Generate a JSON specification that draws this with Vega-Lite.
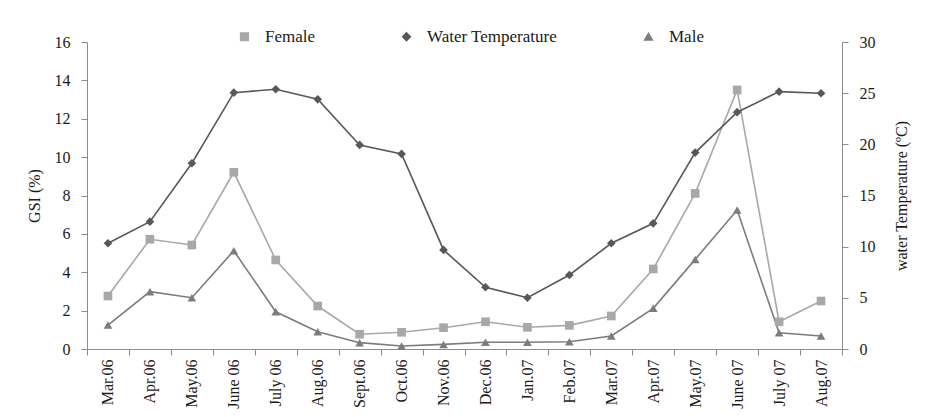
{
  "$schema": "https://vega.github.io/schema/vega-lite/v6.json",
  "width": 755,
  "height": 307,
  "autosize": {"type": "none"},
  "padding": {"left": 87, "top": 42, "right": 88, "bottom": 68},
  "background": "white",
  "config": {
    "font": "Liberation Serif",
    "view": {"stroke": null},
    "axis": {
      "grid": false,
      "domainColor": "#8c8c8c",
      "tickColor": "#8c8c8c",
      "labelColor": "#1a1a1a",
      "titleColor": "#1a1a1a",
      "labelFont": "Liberation Serif",
      "titleFont": "Liberation Serif",
      "labelFontSize": 16,
      "titleFontSize": 16,
      "titleFontWeight": "normal"
    },
    "legend": {
      "orient": "none",
      "legendX": 149,
      "legendY": -14,
      "direction": "horizontal",
      "columnPadding": 82,
      "labelFont": "Liberation Serif",
      "labelFontSize": 17,
      "labelColor": "#1a1a1a",
      "symbolSize": 60,
      "labelOffset": 12,
      "padding": 0
    }
  },
  "data": {
    "values": [
      {"month": "Mar.06", "series": "Female", "value": 2.76},
      {"month": "Apr.06", "series": "Female", "value": 5.72},
      {"month": "May.06", "series": "Female", "value": 5.42},
      {"month": "June 06", "series": "Female", "value": 9.21},
      {"month": "July 06", "series": "Female", "value": 4.64},
      {"month": "Aug.06", "series": "Female", "value": 2.24},
      {"month": "Sept.06", "series": "Female", "value": 0.77},
      {"month": "Oct.06", "series": "Female", "value": 0.87},
      {"month": "Nov.06", "series": "Female", "value": 1.11},
      {"month": "Dec.06", "series": "Female", "value": 1.42},
      {"month": "Jan.07", "series": "Female", "value": 1.13},
      {"month": "Feb.07", "series": "Female", "value": 1.23},
      {"month": "Mar.07", "series": "Female", "value": 1.72},
      {"month": "Apr.07", "series": "Female", "value": 4.17},
      {"month": "May.07", "series": "Female", "value": 8.11},
      {"month": "June 07", "series": "Female", "value": 13.5},
      {"month": "July 07", "series": "Female", "value": 1.42},
      {"month": "Aug.07", "series": "Female", "value": 2.5},
      {"month": "Mar.06", "series": "Male", "value": 1.25},
      {"month": "Apr.06", "series": "Male", "value": 2.99},
      {"month": "May.06", "series": "Male", "value": 2.67},
      {"month": "June 06", "series": "Male", "value": 5.12},
      {"month": "July 06", "series": "Male", "value": 1.94},
      {"month": "Aug.06", "series": "Male", "value": 0.9},
      {"month": "Sept.06", "series": "Male", "value": 0.33},
      {"month": "Oct.06", "series": "Male", "value": 0.16},
      {"month": "Nov.06", "series": "Male", "value": 0.24},
      {"month": "Dec.06", "series": "Male", "value": 0.35},
      {"month": "Jan.07", "series": "Male", "value": 0.35},
      {"month": "Feb.07", "series": "Male", "value": 0.38},
      {"month": "Mar.07", "series": "Male", "value": 0.68},
      {"month": "Apr.07", "series": "Male", "value": 2.12},
      {"month": "May.07", "series": "Male", "value": 4.67},
      {"month": "June 07", "series": "Male", "value": 7.24},
      {"month": "July 07", "series": "Male", "value": 0.85},
      {"month": "Aug.07", "series": "Male", "value": 0.68},
      {"month": "Mar.06", "series": "Water Temperature", "value": 10.33},
      {"month": "Apr.06", "series": "Water Temperature", "value": 12.44},
      {"month": "May.06", "series": "Water Temperature", "value": 18.15},
      {"month": "June 06", "series": "Water Temperature", "value": 25.05},
      {"month": "July 06", "series": "Water Temperature", "value": 25.38},
      {"month": "Aug.06", "series": "Water Temperature", "value": 24.4},
      {"month": "Sept.06", "series": "Water Temperature", "value": 19.94},
      {"month": "Oct.06", "series": "Water Temperature", "value": 19.06},
      {"month": "Nov.06", "series": "Water Temperature", "value": 9.68},
      {"month": "Dec.06", "series": "Water Temperature", "value": 6.03},
      {"month": "Jan.07", "series": "Water Temperature", "value": 5.01},
      {"month": "Feb.07", "series": "Water Temperature", "value": 7.23},
      {"month": "Mar.07", "series": "Water Temperature", "value": 10.33},
      {"month": "Apr.07", "series": "Water Temperature", "value": 12.28},
      {"month": "May.07", "series": "Water Temperature", "value": 19.19},
      {"month": "June 07", "series": "Water Temperature", "value": 23.14},
      {"month": "July 07", "series": "Water Temperature", "value": 25.15},
      {"month": "Aug.07", "series": "Water Temperature", "value": 24.99}
    ]
  },
  "encoding": {
    "x": {
      "field": "month",
      "type": "ordinal",
      "sort": null,
      "scale": {"type": "band", "paddingInner": 0, "paddingOuter": 0},
      "axis": {
        "title": null,
        "labelAngle": -90,
        "labelAlign": "right",
        "labelBaseline": "middle",
        "tickBand": "extent",
        "tickSize": 6,
        "labelPadding": 4
      }
    },
    "color": {
      "field": "series",
      "type": "nominal",
      "title": null,
      "scale": {
        "domain": ["Female", "Water Temperature", "Male"],
        "range": ["#a8a8a8", "#585858", "#7c7c7c"]
      }
    }
  },
  "layer": [
    {
      "transform": [{"filter": "datum.series !== 'Water Temperature'"}],
      "encoding": {
        "y": {
          "field": "value",
          "type": "quantitative",
          "scale": {"domain": [0, 16], "nice": false},
          "axis": {
            "title": "GSI (%)",
            "values": [0, 2, 4, 6, 8, 10, 12, 14, 16],
            "tickSize": 6,
            "labelPadding": 11,
            "titlePadding": 12
          }
        }
      },
      "layer": [
        {"mark": {"type": "line", "strokeWidth": 1.6}},
        {
          "mark": {"type": "point", "filled": true, "opacity": 1, "size": 75},
          "encoding": {
            "shape": {
              "field": "series",
              "type": "nominal",
              "title": null,
              "scale": {
                "domain": ["Female", "Water Temperature", "Male"],
                "range": ["square", "diamond", "triangle-up"]
              }
            }
          }
        }
      ]
    },
    {
      "transform": [{"filter": "datum.series === 'Water Temperature'"}],
      "encoding": {
        "y": {
          "field": "value",
          "type": "quantitative",
          "scale": {"domain": [0, 30], "nice": false},
          "axis": {
            "orient": "right",
            "title": "water Temperature  (ºC)",
            "titleAngle": 270,
            "titleBaseline": "top",
            "values": [0, 5, 10, 15, 20, 25, 30],
            "tickSize": 6,
            "labelPadding": 11,
            "titlePadding": 18
          }
        }
      },
      "layer": [
        {"mark": {"type": "line", "strokeWidth": 1.6}},
        {
          "mark": {"type": "point", "filled": true, "opacity": 1, "size": 75},
          "encoding": {
            "shape": {
              "field": "series",
              "type": "nominal",
              "title": null,
              "scale": {
                "domain": ["Female", "Water Temperature", "Male"],
                "range": ["square", "diamond", "triangle-up"]
              }
            }
          }
        }
      ]
    }
  ],
  "resolve": {"scale": {"y": "independent"}}
}
